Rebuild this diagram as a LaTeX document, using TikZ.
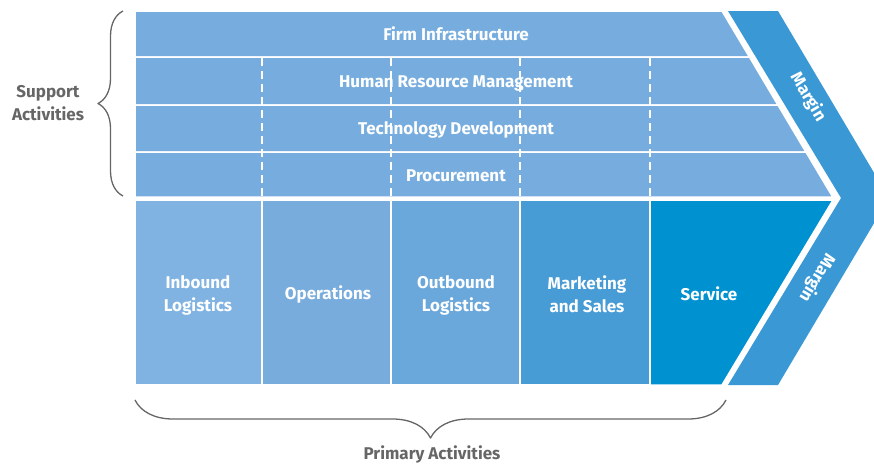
\documentclass[tikz,border=0pt]{standalone}
\usepackage{fontspec}
\setmainfont{Fira Sans}
\usetikzlibrary{decorations.pathreplacing}
\definecolor{supportblue}{HTML}{77ADDE}
\definecolor{inboundblue}{HTML}{80B3E1}
\definecolor{opsblue}{HTML}{77ACDD}
\definecolor{outboundblue}{HTML}{6AA8DB}
\definecolor{salesblue}{HTML}{489CD5}
\definecolor{serviceblue}{HTML}{0091D0}
\definecolor{marginblue}{HTML}{3A98D5}
\definecolor{bracegray}{HTML}{666666}

\begin{document}
\begin{tikzpicture}[
        x=1pt, y=-1pt,
        line join=round,
        cell/.style={draw=white, line width=1.5pt},
        celltext/.style={text=white, align=center, inner sep=1pt,
            font=\bfseries\fontsize{17}{23}\selectfont},
        sidetext/.style={text=bracegray, align=center, inner sep=1pt,
            font=\bfseries\fontsize{17}{23}\selectfont},
        divider/.style={draw=white, line width=1.5pt, dash pattern=on 8pt off 5pt},
        curly/.style={draw=bracegray, line width=1.3pt,
            decorate, decoration={brace, amplitude=#1}}
    ]
    \useasboundingbox (0,0) rectangle (874,463);

    % margin chevron
    \fill[marginblue] (728,11) -- (778,11) -- (889,198) -- (778,385)
        -- (728,385) -- (841,198) -- cycle;

    % support activities
    \path (135,11) coordinate (s0) (135,57) coordinate (s1)
        (135,105) coordinate (s2) (135,152) coordinate (s3)
        (135,197) coordinate (s4);
    \filldraw[cell, fill=supportblue] (s0) -- (722,11) -- (749.4,57) -- (s1) -- cycle;
    \filldraw[cell, fill=supportblue] (s1) -- (749.4,57) -- (777.9,105) -- (s2) -- cycle;
    \filldraw[cell, fill=supportblue] (s2) -- (777.9,105) -- (805.9,152) -- (s3) -- cycle;
    \filldraw[cell, fill=supportblue] (s3) -- (805.9,152) -- (832.7,197) -- (s4) -- cycle;
    \node[celltext] (firm) at (456,34) {Firm Infrastructure};
    \node[celltext] (hrm) at (456,83) {Human Resource Management};
    \node[celltext] (tech) at (456,130) {Technology Development};
    \node[celltext] (proc) at (456,176) {Procurement};
    \foreach \x in {262,391,520,650}
        \draw[divider] (\x,58) -- (\x,196);

    % primary activities
    \filldraw[cell, fill=inboundblue] (135,200) rectangle (262,385);
    \filldraw[cell, fill=opsblue] (262,200) rectangle (391,385);
    \filldraw[cell, fill=outboundblue] (391,200) rectangle (520,385);
    \filldraw[cell, fill=salesblue] (520,200) rectangle (650,385);
    \filldraw[cell, fill=serviceblue] (650,200) -- (833,200) -- (722,385) -- (650,385) -- cycle;
    \node[celltext] (inbound) at (198,295) {Inbound\\Logistics};
    \node[celltext] (ops) at (328,294) {Operations};
    \node[celltext] (outbound) at (456,295) {Outbound\\Logistics};
    \node[celltext] (sales) at (587,294) {Marketing\\and Sales};
    \node[celltext] (service) at (709,294) {Service};

    \node[celltext, rotate=-59] (margintop) at (808,97) {Margin};
    \node[celltext, rotate=-121] (marginbot) at (817,278) {Margin};

    % braces
    \coordinate (supbot) at (123,196);
    \coordinate (suptop) at (123,11);
    \coordinate (primright) at (726,400);
    \coordinate (primleft) at (135,400);
    \draw[curly=25pt] (supbot) -- (suptop);
    \draw[curly=38pt] (primright) -- (primleft);
    \node[sidetext] (support) at (48,103) {Support\\Activities};
    \node[sidetext] (primary) at (432,454) {Primary Activities};
\end{tikzpicture}
\end{document}
